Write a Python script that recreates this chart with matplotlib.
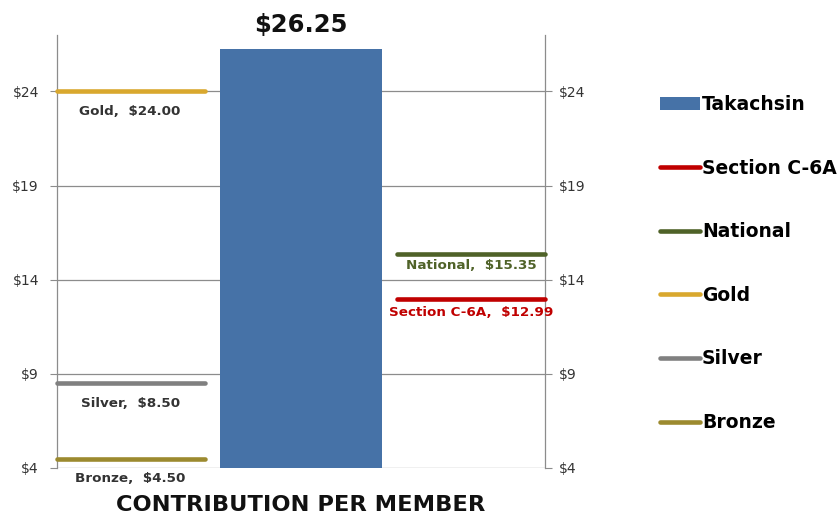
import matplotlib
matplotlib.use("Agg")
import matplotlib.pyplot as plt
from matplotlib.lines import Line2D
from matplotlib.patches import Patch

plt.rcParams['font.family'] = ['DejaVu Sans']

bar_name = "Takachsin"
bar_value = 26.25
line_names = ["Section C-6A", "National", "Gold", "Silver", "Bronze"]
line_values = [12.99, 15.35, 24.00, 8.50, 4.50]
yticks = [4, 9, 14, 19, 24]
ytick_labels = ["$4", "$9", "$14", "$19", "$24"]
xlabel = "CONTRIBUTION PER MEMBER"

# styling (not data)
line_colors = ["#C00000", "#4F6228", "#D9A82E", "#808080", "#9C8A2F"]
label_colors = ["#C00000", "#4F6228", "#333333", "#333333", "#333333"]
line_side = ["right", "right", "left", "left", "left"]
label_drop = [0.75, 0.62, 1.06, 1.06, 1.06]
BAR_COLOR = "#4672A7"
GRID = "#8C8C8C"

fig = plt.figure(figsize=(8.39, 5.19), dpi=100)
ax = fig.add_axes([0.0679, 0.0983, 0.5817, 0.8343])
ax.set_xlim(0, 3)
ax.set_ylim(4, 27)

for y in yticks:
    ax.axhline(y, color=GRID, lw=0.9, zorder=0)

ax.bar([1.5], [bar_value - 4], bottom=4, width=0.99, color=BAR_COLOR, zorder=2)
ax.text(1.5, 27.16, "${:.2f}".format(bar_value), ha="center", va="baseline",
        fontsize=17.5, fontweight="bold", color="#111111")

segments = {"left": (0.0, 0.91), "right": (2.09, 3.0)}
for name, v, c, lc, side, d in zip(line_names, line_values, line_colors, label_colors,
                                   line_side, label_drop):
    x0, x1 = segments[side]
    ax.plot([x0, x1], [v, v], color=c, lw=3.3, solid_capstyle="round", zorder=3, clip_on=False)
    cx = (x0 + x1) / 2 if side == "right" else 0.45
    ax.text(cx, v - d, "{},  ${:.2f}".format(name, v),
            ha="center", va="center", fontsize=9.7, fontweight="bold", color=lc)

for s in ["top", "bottom"]:
    ax.spines[s].set_visible(False)
for s in ["left", "right"]:
    ax.spines[s].set_color(GRID)
    ax.spines[s].set_linewidth(0.9)

ax.set_yticks(yticks)
ax.set_yticklabels(ytick_labels)
ax.tick_params(axis="y", direction="out", length=5, color=GRID, pad=8,
               labelsize=10, labelcolor="#333333", left=True, right=False)
ax.set_xticks([])

ax2 = ax.twinx()
ax2.set_ylim(ax.get_ylim())
ax2.set_yticks(yticks)
ax2.set_yticklabels(ytick_labels)
ax2.tick_params(axis="y", direction="out", length=5, color=GRID, pad=5,
                labelsize=10, labelcolor="#333333")
for s in ["top", "bottom", "left", "right"]:
    ax2.spines[s].set_visible(False)

fig.text(301 / 839, 1 - 505 / 519, xlabel, ha="center", va="center",
         fontsize=16.2, fontweight="bold", color="#111111")

handles = [Patch(facecolor=BAR_COLOR, edgecolor="none")]
labels = [bar_name]
for name, c in zip(line_names, line_colors):
    handles.append(Line2D([0], [0], color=c, lw=3.3, solid_capstyle="round"))
    labels.append(name)
fig.legend(handles, labels, loc="upper left", bbox_to_anchor=(660 / 839, 1 - 95 / 519),
           frameon=False, borderpad=0, borderaxespad=0, labelspacing=2.38,
           handlelength=2.13, handletextpad=0.1,
           prop={"weight": "bold", "size": 13.5})

fig.savefig("out.png", dpi=100)
